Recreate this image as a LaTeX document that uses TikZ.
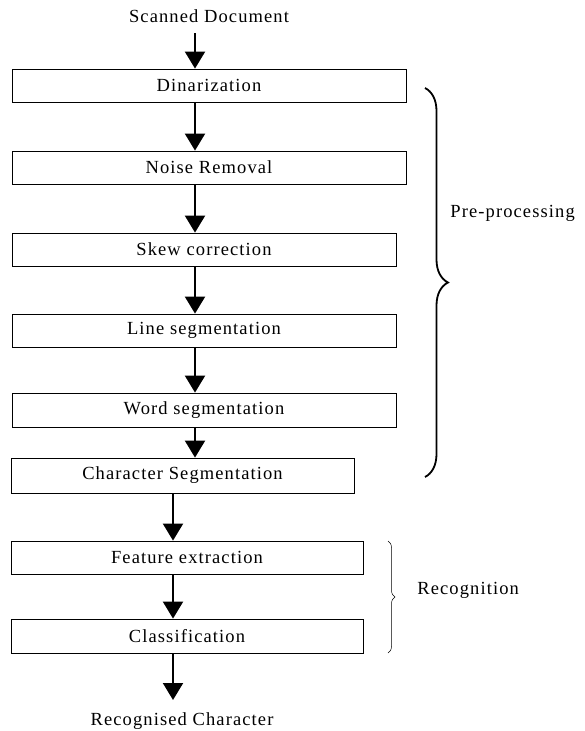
\documentclass[tikz,border=0pt]{standalone}
\usepackage{fontspec}
\setmainfont[LetterSpace=6]{Liberation Serif}
\usetikzlibrary{arrows.meta,decorations.pathreplacing}

\tikzset{every picture/.style={line width=0.8pt}}
\tikzset{
  stage/.style={draw, line width=0.8pt, inner sep=0pt, font=\fontsize{18.5}{21}\selectfont},
  lbl/.style={inner sep=0pt, font=\fontsize{18.5}{21}\selectfont},
  flow/.style={line width=2pt, -{Triangle[length=17pt,width=20pt]}},
  grp/.style={decorate, decoration={brace, amplitude=#1}}
}

\begin{document}
\begin{tikzpicture}[x=1pt,y=1pt,yscale=-1,xscale=1]
	\useasboundingbox (0,0) rectangle (585,731);

	% Text Node
	\node[lbl] (scan) at (209,16) {Scanned Document};
	% stages
	\node[stage, minimum width=394pt, minimum height=33pt] (bin) at (209,85.5) {Dinarization};
	\node[stage, minimum width=394pt, minimum height=33pt] (noise) at (209,167.5) {Noise Removal};
	\node[stage, minimum width=384pt, minimum height=33pt] (skew) at (204,249.5) {Skew correction};
	\node[stage, minimum width=384pt, minimum height=33pt] (line) at (204,330.5) {Line segmentation};
	\node[stage, minimum width=384pt, minimum height=34pt] (word) at (204,410) {Word segmentation};
	\node[stage, minimum width=343pt, minimum height=35pt] (char) at (182.5,475.5) {Character Segmentation};
	\node[stage, minimum width=352pt, minimum height=33pt] (feat) at (187,557.5) {Feature extraction};
	\node[stage, minimum width=352pt, minimum height=34pt] (cls) at (187,636) {Classification};
	% Text Node
	\node[lbl] (rec) at (182,721) {Recognised Character};

	% arrow columns
	\coordinate (ua) at (195,33);
	\coordinate (la) at (173,700);

	%Straight Lines
	\draw[flow] (ua) -- (bin.north -| ua);
	\draw[flow] (bin.south -| ua) -- (noise.north -| ua);
	\draw[flow] (noise.south -| ua) -- (skew.north -| ua);
	\draw[flow] (skew.south -| ua) -- (line.north -| ua);
	\draw[flow] (line.south -| ua) -- (word.north -| ua);
	\draw[flow] (word.south -| ua) -- (char.north -| ua);
	\draw[flow] (char.south -| la) -- (feat.north -| la);
	\draw[flow] (feat.south -| la) -- (cls.north -| la);
	\draw[flow] (cls.south -| la) -- (la);

	%Braces
	\coordinate (pa) at (425,88);
	\coordinate (pb) at (425,477);
	\draw[grp=23pt, line width=1.8pt] (pa) -- (pb);
	\node[lbl, anchor=west] (pre) at (450,213) {Pre-processing};

	\coordinate (ra) at (388,541);
	\coordinate (rb) at (388,653);
	\draw[grp=7pt, line width=0.5pt] (ra) -- (rb);
	\node[lbl, anchor=west] (recog) at (417,590) {Recognition};

\end{tikzpicture}
\end{document}
